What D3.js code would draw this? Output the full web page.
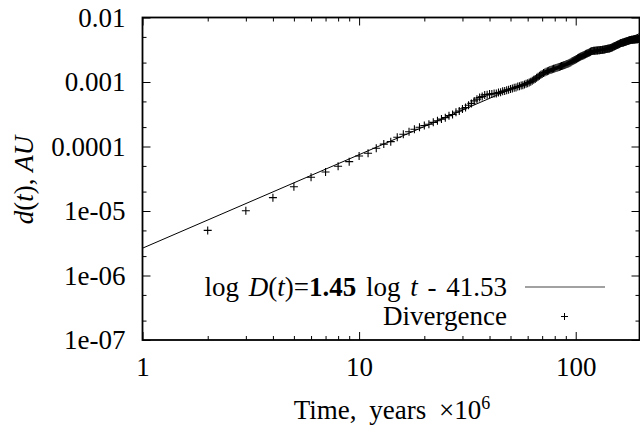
<!DOCTYPE html>
<html>
<head>
<meta charset="utf-8">
<script src="https://cdn.jsdelivr.net/npm/d3@7"></script>
<style>
  html, body { margin: 0; padding: 0; background: #fff; }
  svg { display: block; }
  text { font-family: "Liberation Serif", "Times New Roman", serif; fill: #000; }
</style>
</head>
<body>
<svg id="chart" width="640" height="428"></svg>
<script>
// ---------- data ----------
const timeStart = 2;           // first sample, years x 10^6 (one sample per unit)
const divergence = [
  5.0e-6, 1.01e-5, 1.61e-5, 2.38e-5, 3.33e-5, 4.03e-5, 4.93e-5, 5.82e-5, 7.13e-5,
  7.85e-5, 9.37e-5, 1.09e-4, 1.19e-4, 1.39e-4, 1.55e-4, 1.69e-4, 1.85e-4, 1.99e-4, 2.12e-4,
  2.21e-4, 2.37e-4, 2.51e-4,
  2.66e-4, 2.80e-4, 3.01e-4, 3.14e-4, 3.39e-4, 3.55e-4, 3.83e-4, 4.02e-4, 4.37e-4, 4.66e-4,
  5.09e-4, 5.42e-4, 5.75e-4, 5.97e-4, 6.31e-4, 6.33e-4, 6.49e-4,
  6.50e-4, 6.64e-4, 6.66e-4, 6.85e-4, 6.95e-4, 7.16e-4, 7.26e-4, 7.48e-4, 7.59e-4, 7.80e-4,
  7.92e-4, 8.14e-4, 8.25e-4, 8.48e-4, 8.58e-4, 8.82e-4, 8.94e-4, 9.16e-4, 9.37e-4, 9.59e-4,
  9.84e-4, 1.012e-3, 1.042e-3, 1.079e-3, 1.117e-3, 1.159e-3, 1.202e-3, 1.247e-3, 1.291e-3, 1.334e-3, 1.374e-3, 1.409e-3,
  1.442e-3, 1.472e-3, 1.500e-3, 1.528e-3, 1.552e-3, 1.578e-3, 1.600e-3, 1.622e-3, 1.644e-3, 1.667e-3,
  1.69e-3, 1.71e-3, 1.74e-3, 1.77e-3, 1.79e-3, 1.82e-3, 1.84e-3, 1.87e-3, 1.90e-3, 1.92e-3, 1.95e-3,
  1.99e-3, 2.03e-3, 2.07e-3, 2.11e-3, 2.15e-3, 2.19e-3, 2.24e-3, 2.28e-3, 2.33e-3, 2.37e-3, 2.42e-3, 2.47e-3,
  2.50e-3, 2.54e-3, 2.58e-3, 2.61e-3, 2.65e-3, 2.69e-3, 2.73e-3, 2.77e-3, 2.81e-3, 2.85e-3, 2.90e-3, 2.94e-3, 2.99e-3, 3.03e-3,
  3.03e-3, 3.04e-3, 3.05e-3, 3.06e-3, 3.07e-3, 3.08e-3, 3.09e-3, 3.10e-3, 3.11e-3, 3.12e-3, 3.13e-3, 3.13e-3, 3.14e-3,
  3.16e-3, 3.17e-3, 3.19e-3, 3.20e-3, 3.22e-3, 3.24e-3, 3.25e-3, 3.27e-3, 3.29e-3, 3.30e-3, 3.32e-3, 3.33e-3,
  3.36e-3, 3.40e-3, 3.44e-3, 3.47e-3, 3.51e-3, 3.55e-3, 3.58e-3, 3.62e-3, 3.66e-3, 3.70e-3, 3.73e-3, 3.78e-3,
  3.82e-3, 3.85e-3, 3.90e-3, 3.94e-3, 3.98e-3,
  4.01e-3, 4.04e-3, 4.06e-3, 4.08e-3, 4.11e-3, 4.14e-3, 4.17e-3, 4.20e-3, 4.22e-3, 4.25e-3, 4.28e-3, 4.31e-3,
  4.34e-3, 4.37e-3, 4.39e-3, 4.42e-3, 4.45e-3, 4.48e-3,
  4.49e-3, 4.50e-3, 4.51e-3, 4.52e-3, 4.53e-3, 4.54e-3, 4.55e-3, 4.56e-3, 4.57e-3, 4.58e-3, 4.59e-3,
  4.60e-3, 4.61e-3, 4.62e-3, 4.63e-3, 4.65e-3, 4.66e-3, 4.67e-3, 4.68e-3, 4.69e-3, 4.70e-3
];
const fitSlope = 1.45;          // exponent of power-law fit
const fitAtT1 = 2.65e-6;        // fit value at t = 1

const xDomain = [1, 197];
const yDomain = [1e-7, 1e-2];
const xMajorTicks = [1, 10, 100];
const xTickLabels = ["1", "10", "100"];
const xMinorTicks = [2,3,4,5,6,7,8,9,20,30,40,50,60,70,80,90];
const yMajorTicks = [1e-7, 1e-6, 1e-5, 1e-4, 1e-3, 1e-2];
const yTickLabels = ["1e-07", "1e-06", "1e-05", "0.0001", "0.001", "0.01"];
const yMinorTicks = [2e-7,5e-7,2e-6,5e-6,2e-5,5e-5,2e-4,5e-4,2e-3,5e-3];

// ---------- layout ----------
const L = 142.5, R = 639.5, T = 17.5, B = 340;
const svg = d3.select("#chart");
const x = d3.scaleLog().domain(xDomain).range([L, R]);
const y = d3.scaleLog().domain(yDomain).range([B, T]);
const FS = 27;

svg.append("defs").append("clipPath").attr("id", "clip")
  .append("rect").attr("x", L).attr("y", T).attr("width", R - L).attr("height", B - T);

// ---------- axes (ticks inward on all four sides) ----------
function styleAxis(g, hideText) {
  g.attr("font-family", null).attr("font-size", null);
  g.select(".domain").remove();
  g.selectAll(".tick line").attr("stroke", "#000").attr("stroke-width", 1);
  if (hideText) g.selectAll(".tick text").remove();
  else g.selectAll(".tick text").attr("font-size", FS).attr("fill", "#000");
}
svg.append("g").attr("transform", `translate(0,${B})`)
  .call(d3.axisBottom(x).tickValues(xMajorTicks).tickSize(-8).tickPadding(17)
    .tickFormat((d, i) => xTickLabels[i]))
  .call(g => styleAxis(g, false));
svg.append("g").attr("transform", `translate(0,${B})`)
  .call(d3.axisBottom(x).tickValues(xMinorTicks).tickSize(-4).tickFormat(""))
  .call(g => styleAxis(g, true));
svg.append("g").attr("transform", `translate(0,${T})`)
  .call(d3.axisTop(x).tickValues(xMajorTicks).tickSize(-8).tickFormat(""))
  .call(g => styleAxis(g, true));
svg.append("g").attr("transform", `translate(0,${T})`)
  .call(d3.axisTop(x).tickValues(xMinorTicks).tickSize(-4).tickFormat(""))
  .call(g => styleAxis(g, true));

svg.append("g").attr("transform", `translate(${L},0)`)
  .call(d3.axisLeft(y).tickValues(yMajorTicks).tickSize(-8).tickPadding(17)
    .tickFormat((d, i) => yTickLabels[i]))
  .call(g => styleAxis(g, false));
svg.append("g").attr("transform", `translate(${L},0)`)
  .call(d3.axisLeft(y).tickValues(yMinorTicks).tickSize(-4).tickFormat(""))
  .call(g => styleAxis(g, true));
svg.append("g").attr("transform", `translate(${R},0)`)
  .call(d3.axisRight(y).tickValues(yMajorTicks).tickSize(-8).tickFormat(""))
  .call(g => styleAxis(g, true));
svg.append("g").attr("transform", `translate(${R},0)`)
  .call(d3.axisRight(y).tickValues(yMinorTicks).tickSize(-4).tickFormat(""))
  .call(g => styleAxis(g, true));

// frame
svg.append("rect").attr("x", L).attr("y", T).attr("width", R - L).attr("height", B - T)
  .attr("fill", "none").attr("stroke", "#000").attr("stroke-width", 1.8);

// ---------- fit line ----------
const fitPts = xDomain.map(t => ({ t, d: fitAtT1 * Math.pow(t, fitSlope) }));
svg.append("path").attr("clip-path", "url(#clip)")
  .datum(fitPts)
  .attr("d", d3.line().x(p => x(p.t)).y(p => y(p.d)))
  .attr("fill", "none").attr("stroke", "#000").attr("stroke-width", 1);

// ---------- divergence points (+) ----------
const pts = divergence.map((d, i) => ({ t: timeStart + i, d }));
const plusPath = s => `M${-s},0H${s}M0,${-s}V${s}`;
svg.append("g").attr("clip-path", "url(#clip)")
  .selectAll("path").data(pts).join("path")
  .attr("transform", p => `translate(${x(p.t)},${y(p.d)})`)
  .attr("d", plusPath(4))
  .attr("fill", "none").attr("stroke", "#000").attr("stroke-width", 1.1);

// ---------- legend ----------
const legX = 507;
const leg1 = svg.append("text").attr("x", legX).attr("y", 287).attr("dy", "0.35em")
  .attr("text-anchor", "end").attr("font-size", FS).attr("word-spacing", "3px");
leg1.append("tspan").text("log ");
leg1.append("tspan").attr("font-style", "italic").text("D");
leg1.append("tspan").text("(");
leg1.append("tspan").attr("font-style", "italic").text("t");
leg1.append("tspan").text(")=");
leg1.append("tspan").attr("font-weight", "bold").text("1.45");
leg1.append("tspan").text(" log ");
leg1.append("tspan").attr("font-style", "italic").text("t");
leg1.append("tspan").text(" - 41.53");
svg.append("line").attr("x1", 525).attr("x2", 605).attr("y1", 287).attr("y2", 287)
  .attr("stroke", "#444").attr("stroke-width", 1.1);

svg.append("text").attr("x", legX).attr("y", 316).attr("dy", "0.35em")
  .attr("text-anchor", "end").attr("font-size", FS).text("Divergence");
svg.append("path").attr("transform", "translate(564.5,316.5)").attr("d", plusPath(3.5))
  .attr("stroke", "#000").attr("stroke-width", 1);

// ---------- axis titles ----------
const xt = svg.append("text").attr("x", 392).attr("y", 410).attr("dy", "0.35em")
  .attr("text-anchor", "middle").attr("font-size", FS).attr("word-spacing", "6px");
xt.append("tspan").text("Time, years ×10");
xt.append("tspan").attr("font-size", 18).attr("dy", "-0.6em").text("6");

const yt = svg.append("text").attr("transform", "translate(24,180) rotate(-90)")
  .attr("text-anchor", "middle").attr("dy", "0.35em").attr("font-size", FS);
yt.append("tspan").attr("font-style", "italic").text("d");
yt.append("tspan").text("(");
yt.append("tspan").attr("font-style", "italic").text("t");
yt.append("tspan").text("), ");
yt.append("tspan").attr("font-style", "italic").text("AU");
</script>
</body>
</html>
